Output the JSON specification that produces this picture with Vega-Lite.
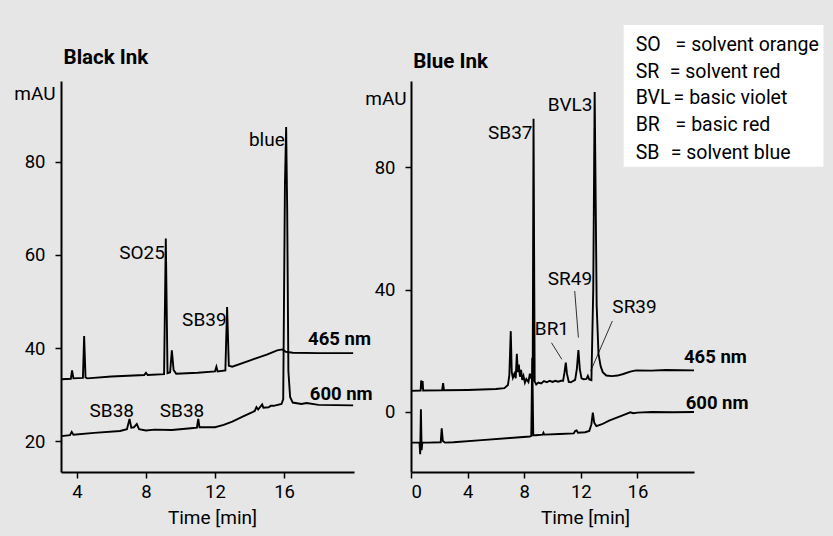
{
  "$schema": "https://vega.github.io/schema/vega-lite/v6.json",
  "background": "#e6e6e6",
  "padding": {"left": 13, "top": 24, "right": 10, "bottom": 11},
  "bounds": "flush",
  "spacing": 57,
  "config": {
    "font": "Roboto",
    "view": {"stroke": null},
    "axis": {"grid": false, "domainColor": "#000", "domainWidth": 2, "tickColor": "#000", "tickWidth": 1.5, "tickSize": 6, "labelColor": "#000", "labelFontSize": 18.5, "titleFontSize": 19, "titleFontWeight": "normal", "titleColor": "#000", "labelFont": "Roboto", "titleFont": "Roboto"},
    "text": {"fontSize": 19, "color": "#000", "font": "Roboto"}
  },
  "datasets": {
    "black": [
      {"s": "465", "t": 3.1, "v": 33.3}, {"s": "465", "t": 3.65, "v": 33.4}, {"s": "465", "t": 3.72, "v": 35.2}, {"s": "465", "t": 3.8, "v": 33.5},
      {"s": "465", "t": 4.35, "v": 33.6}, {"s": "465", "t": 4.42, "v": 42.6}, {"s": "465", "t": 4.5, "v": 33.7}, {"s": "465", "t": 4.6, "v": 33.5},
      {"s": "465", "t": 6.0, "v": 33.9}, {"s": "465", "t": 7.9, "v": 34.2}, {"s": "465", "t": 8.0, "v": 34.7}, {"s": "465", "t": 8.1, "v": 34.2},
      {"s": "465", "t": 9.05, "v": 34.4}, {"s": "465", "t": 9.15, "v": 63.5}, {"s": "465", "t": 9.25, "v": 34.6}, {"s": "465", "t": 9.4, "v": 34.8},
      {"s": "465", "t": 9.5, "v": 39.5}, {"s": "465", "t": 9.6, "v": 35.3}, {"s": "465", "t": 9.75, "v": 34.5}, {"s": "465", "t": 11.0, "v": 34.7},
      {"s": "465", "t": 12.0, "v": 35.0}, {"s": "465", "t": 12.08, "v": 36.0}, {"s": "465", "t": 12.15, "v": 35.0}, {"s": "465", "t": 12.6, "v": 35.2},
      {"s": "465", "t": 12.7, "v": 48.8}, {"s": "465", "t": 12.8, "v": 36.2}, {"s": "465", "t": 13.0, "v": 36.0}, {"s": "465", "t": 14.0, "v": 37.3},
      {"s": "465", "t": 15.0, "v": 38.6}, {"s": "465", "t": 15.6, "v": 39.5}, {"s": "465", "t": 15.9, "v": 39.7}, {"s": "465", "t": 16.1, "v": 39.2},
      {"s": "465", "t": 16.5, "v": 39.0}, {"s": "465", "t": 18.0, "v": 38.9}, {"s": "465", "t": 20.0, "v": 38.9},
      {"s": "600", "t": 3.1, "v": 21.1}, {"s": "600", "t": 3.6, "v": 21.3}, {"s": "600", "t": 3.7, "v": 22.0}, {"s": "600", "t": 3.8, "v": 21.4},
      {"s": "600", "t": 5.0, "v": 21.8}, {"s": "600", "t": 6.5, "v": 22.2}, {"s": "600", "t": 6.9, "v": 22.6}, {"s": "600", "t": 7.05, "v": 24.8},
      {"s": "600", "t": 7.15, "v": 22.9}, {"s": "600", "t": 7.3, "v": 23.0}, {"s": "600", "t": 7.47, "v": 23.7}, {"s": "600", "t": 7.6, "v": 22.6},
      {"s": "600", "t": 8.0, "v": 22.3}, {"s": "600", "t": 8.5, "v": 22.5}, {"s": "600", "t": 9.5, "v": 22.4}, {"s": "600", "t": 10.6, "v": 22.8},
      {"s": "600", "t": 10.95, "v": 22.9}, {"s": "600", "t": 11.03, "v": 24.8}, {"s": "600", "t": 11.1, "v": 23.0}, {"s": "600", "t": 12.0, "v": 23.0},
      {"s": "600", "t": 12.5, "v": 23.5}, {"s": "600", "t": 13.0, "v": 24.2}, {"s": "600", "t": 13.6, "v": 25.3}, {"s": "600", "t": 14.2, "v": 26.3},
      {"s": "600", "t": 14.3, "v": 26.5}, {"s": "600", "t": 14.4, "v": 27.3}, {"s": "600", "t": 14.5, "v": 26.8}, {"s": "600", "t": 14.73, "v": 27.9},
      {"s": "600", "t": 14.8, "v": 27.2}, {"s": "600", "t": 15.1, "v": 27.3}, {"s": "600", "t": 15.23, "v": 27.6}, {"s": "600", "t": 15.4, "v": 27.6},
      {"s": "600", "t": 15.85, "v": 28.0}, {"s": "600", "t": 15.95, "v": 29.0}, {"s": "600", "t": 16.05, "v": 75.0}, {"s": "600", "t": 16.12, "v": 87.4},
      {"s": "600", "t": 16.18, "v": 70.0}, {"s": "600", "t": 16.25, "v": 35.0}, {"s": "600", "t": 16.35, "v": 29.5}, {"s": "600", "t": 16.5, "v": 28.3},
      {"s": "600", "t": 17.0, "v": 28.0}, {"s": "600", "t": 17.3, "v": 28.2}, {"s": "600", "t": 18.0, "v": 27.8}, {"s": "600", "t": 20.0, "v": 27.7}
    ],
    "blue": [
      {"s": "465", "t": 0.0, "v": 6.9}, {"s": "465", "t": 0.68, "v": 7.0}, {"s": "465", "t": 0.72, "v": 10.3}, {"s": "465", "t": 0.77, "v": 7.5},
      {"s": "465", "t": 0.82, "v": 10.1}, {"s": "465", "t": 0.86, "v": 7.0}, {"s": "465", "t": 2.2, "v": 7.1}, {"s": "465", "t": 2.27, "v": 9.4},
      {"s": "465", "t": 2.33, "v": 7.1}, {"s": "465", "t": 4.0, "v": 7.2}, {"s": "465", "t": 6.0, "v": 7.5}, {"s": "465", "t": 6.6, "v": 7.8},
      {"s": "465", "t": 6.85, "v": 8.8}, {"s": "465", "t": 6.95, "v": 12.0}, {"s": "465", "t": 7.05, "v": 26.4}, {"s": "465", "t": 7.12, "v": 13.0},
      {"s": "465", "t": 7.2, "v": 11.2}, {"s": "465", "t": 7.3, "v": 12.5}, {"s": "465", "t": 7.4, "v": 11.0}, {"s": "465", "t": 7.48, "v": 19.0},
      {"s": "465", "t": 7.55, "v": 13.0}, {"s": "465", "t": 7.62, "v": 15.5}, {"s": "465", "t": 7.7, "v": 11.5}, {"s": "465", "t": 7.78, "v": 13.8},
      {"s": "465", "t": 7.86, "v": 10.5}, {"s": "465", "t": 7.95, "v": 11.8}, {"s": "465", "t": 8.05, "v": 9.6}, {"s": "465", "t": 8.15, "v": 10.8},
      {"s": "465", "t": 8.3, "v": 9.8}, {"s": "465", "t": 8.4, "v": 12.5}, {"s": "465", "t": 8.5, "v": 11.0}, {"s": "465", "t": 8.6, "v": 10.5},
      {"s": "465", "t": 8.66, "v": 95.8}, {"s": "465", "t": 8.74, "v": 10.0}, {"s": "465", "t": 8.85, "v": 9.0}, {"s": "465", "t": 9.0, "v": 9.6},
      {"s": "465", "t": 9.2, "v": 9.3}, {"s": "465", "t": 9.4, "v": 10.1}, {"s": "465", "t": 9.6, "v": 9.7}, {"s": "465", "t": 9.8, "v": 10.2},
      {"s": "465", "t": 10.0, "v": 9.8}, {"s": "465", "t": 10.2, "v": 10.2}, {"s": "465", "t": 10.4, "v": 9.9}, {"s": "465", "t": 10.6, "v": 10.2},
      {"s": "465", "t": 10.75, "v": 10.2}, {"s": "465", "t": 10.85, "v": 13.0}, {"s": "465", "t": 10.94, "v": 16.1}, {"s": "465", "t": 11.02, "v": 12.5},
      {"s": "465", "t": 11.15, "v": 9.8}, {"s": "465", "t": 11.3, "v": 9.7}, {"s": "465", "t": 11.6, "v": 10.5}, {"s": "465", "t": 11.72, "v": 14.0},
      {"s": "465", "t": 11.83, "v": 20.2}, {"s": "465", "t": 11.93, "v": 14.0}, {"s": "465", "t": 12.05, "v": 11.0}, {"s": "465", "t": 12.2, "v": 10.7},
      {"s": "465", "t": 12.4, "v": 10.8}, {"s": "465", "t": 12.5, "v": 11.8}, {"s": "465", "t": 12.6, "v": 10.6}, {"s": "465", "t": 12.75, "v": 10.4},
      {"s": "465", "t": 12.88, "v": 40.0}, {"s": "465", "t": 12.98, "v": 104.5}, {"s": "465", "t": 13.05, "v": 70.0}, {"s": "465", "t": 13.12, "v": 35.0},
      {"s": "465", "t": 13.25, "v": 19.0}, {"s": "465", "t": 13.4, "v": 15.0}, {"s": "465", "t": 13.55, "v": 13.0}, {"s": "465", "t": 13.8, "v": 11.9},
      {"s": "465", "t": 14.2, "v": 11.7}, {"s": "465", "t": 14.6, "v": 11.9}, {"s": "465", "t": 15.0, "v": 12.4}, {"s": "465", "t": 15.5, "v": 13.2},
      {"s": "465", "t": 15.9, "v": 13.6}, {"s": "465", "t": 17.0, "v": 13.5}, {"s": "465", "t": 18.0, "v": 13.7}, {"s": "465", "t": 20.0, "v": 13.6},
      {"s": "600", "t": 0.0, "v": -10.0}, {"s": "600", "t": 0.6, "v": -10.0}, {"s": "600", "t": 0.65, "v": -13.8}, {"s": "600", "t": 0.7, "v": 0.9},
      {"s": "600", "t": 0.75, "v": -12.5}, {"s": "600", "t": 0.8, "v": -10.0}, {"s": "600", "t": 1.2, "v": -10.0}, {"s": "600", "t": 2.1, "v": -9.9},
      {"s": "600", "t": 2.17, "v": -5.3}, {"s": "600", "t": 2.25, "v": -9.5}, {"s": "600", "t": 2.4, "v": -10.0}, {"s": "600", "t": 3.0, "v": -9.9},
      {"s": "600", "t": 5.0, "v": -9.2}, {"s": "600", "t": 7.0, "v": -8.5}, {"s": "600", "t": 8.4, "v": -8.0}, {"s": "600", "t": 8.5, "v": -7.8},
      {"s": "600", "t": 8.57, "v": 17.7}, {"s": "600", "t": 8.64, "v": -7.6}, {"s": "600", "t": 8.8, "v": -7.6}, {"s": "600", "t": 9.3, "v": -7.4},
      {"s": "600", "t": 9.36, "v": -6.8}, {"s": "600", "t": 9.42, "v": -7.4}, {"s": "600", "t": 10.5, "v": -7.2}, {"s": "600", "t": 11.5, "v": -7.0},
      {"s": "600", "t": 11.6, "v": -6.2}, {"s": "600", "t": 11.7, "v": -6.0}, {"s": "600", "t": 11.8, "v": -6.8}, {"s": "600", "t": 12.3, "v": -6.6},
      {"s": "600", "t": 12.6, "v": -6.2}, {"s": "600", "t": 12.75, "v": -4.0}, {"s": "600", "t": 12.85, "v": -0.2}, {"s": "600", "t": 12.95, "v": -3.5},
      {"s": "600", "t": 13.1, "v": -4.6}, {"s": "600", "t": 13.5, "v": -4.0}, {"s": "600", "t": 14.0, "v": -2.8}, {"s": "600", "t": 14.5, "v": -1.9},
      {"s": "600", "t": 15.0, "v": -1.0}, {"s": "600", "t": 15.5, "v": -0.1}, {"s": "600", "t": 15.7, "v": -0.4}, {"s": "600", "t": 16.0, "v": -0.2},
      {"s": "600", "t": 17.0, "v": 0.0}, {"s": "600", "t": 18.5, "v": -0.1}, {"s": "600", "t": 20.0, "v": 0.0}
    ]
  },
  "hconcat": [
    {
      "width": 293,
      "height": 391,
      "layer": [
        {
          "data": {"name": "black"},
          "mark": {"type": "line", "color": "#000", "strokeWidth": 1.9, "clip": true},
          "encoding": {
            "x": {"field": "t", "type": "quantitative", "scale": {"domain": [3.08, 20.05], "nice": false, "zero": false},
                  "axis": {"values": [4, 8, 12, 16], "title": "Time [min]", "labelPadding": 4, "titlePadding": 8, "titleX": 151}},
            "y": {"field": "v", "type": "quantitative", "scale": {"domain": [13.4, 97.3], "nice": false, "zero": false},
                  "axis": {"values": [20, 40, 60, 80], "title": "mAU", "titleAngle": 0, "titleAlign": "right", "titleBaseline": "alphabetic", "titleX": -6, "titleY": 18, "labelPadding": 10}},
            "detail": {"field": "s"}
          }
        },
        {
          "data": {"values": [{"label": "Black Ink", "t": 3.23, "v": 100.9}]},
          "mark": {"type": "text", "align": "left", "baseline": "alphabetic", "fontWeight": "bold", "fontSize": 20.5},
          "encoding": {"x": {"field": "t", "type": "quantitative"}, "y": {"field": "v", "type": "quantitative"}, "text": {"field": "label"}}
        },
        {
          "data": {"values": [{"label": "blue", "t": 16.04, "v": 83.4}, {"label": "SO25", "t": 9.1, "v": 59.0}, {"label": "SB39", "t": 12.67, "v": 44.7}]},
          "mark": {"type": "text", "align": "right", "baseline": "alphabetic"},
          "encoding": {"x": {"field": "t", "type": "quantitative"}, "y": {"field": "v", "type": "quantitative"}, "text": {"field": "label"}}
        },
        {
          "data": {"values": [{"label": "SB38", "t": 6.02, "v": 25.2}, {"label": "SB38", "t": 10.09, "v": 25.2}]},
          "mark": {"type": "text", "align": "center", "baseline": "alphabetic"},
          "encoding": {"x": {"field": "t", "type": "quantitative"}, "y": {"field": "v", "type": "quantitative"}, "text": {"field": "label"}}
        },
        {
          "data": {"values": [{"label": "465 nm", "t": 17.39, "v": 40.6}, {"label": "600 nm", "t": 17.49, "v": 28.8}]},
          "mark": {"type": "text", "align": "left", "baseline": "alphabetic", "fontWeight": "bold", "fontSize": 18.5},
          "encoding": {"x": {"field": "t", "type": "quantitative"}, "y": {"field": "v", "type": "quantitative"}, "text": {"field": "label"}}
        }
      ]
    },
    {
      "width": 283,
      "height": 391,
      "layer": [
        {
          "data": {"values": [{"t1": 15.03, "t2": 29.15, "v1": 80.1, "v2": 126.4}]},
          "mark": {"type": "rect", "color": "#fff"},
          "encoding": {
            "x": {"field": "t1", "type": "quantitative", "scale": {"domain": [0, 20], "nice": false},
                  "axis": {"values": [0, 4, 8, 12, 16], "title": "Time [min]", "labelPadding": 4, "titlePadding": 8, "titleX": 174}},
            "x2": {"field": "t2"},
            "y": {"field": "v1", "type": "quantitative", "scale": {"domain": [-19.6, 108.1], "nice": false, "zero": false},
                  "axis": {"values": [0, 40, 80], "title": "mAU", "titleAngle": 0, "titleAlign": "right", "titleBaseline": "alphabetic", "titleX": -5, "titleY": 23, "labelPadding": 10}},
            "y2": {"field": "v2"}
          }
        },
        {
          "data": {"name": "blue"},
          "mark": {"type": "line", "color": "#000", "strokeWidth": 1.9, "clip": true},
          "encoding": {
            "x": {"field": "t", "type": "quantitative"},
            "y": {"field": "v", "type": "quantitative"},
            "detail": {"field": "s"}
          }
        },
        {
          "data": {"values": [{"t1": 9.93, "v1": 22.6, "t2": 10.66, "v2": 17.2}, {"t1": 11.57, "v1": 39.5, "t2": 11.83, "v2": 24.3}, {"t1": 14.23, "v1": 29.7, "t2": 12.7, "v2": 13.4}]},
          "mark": {"type": "rule", "color": "#000", "strokeWidth": 0.8},
          "encoding": {"x": {"field": "t1", "type": "quantitative"}, "y": {"field": "v1", "type": "quantitative"}, "x2": {"field": "t2"}, "y2": {"field": "v2"}}
        },
        {
          "data": {"values": [{"label": "Blue Ink", "t": 0.16, "v": 112.4}]},
          "mark": {"type": "text", "align": "left", "baseline": "alphabetic", "fontWeight": "bold", "fontSize": 20.5},
          "encoding": {"x": {"field": "t", "type": "quantitative"}, "y": {"field": "v", "type": "quantitative"}, "text": {"field": "label"}}
        },
        {
          "data": {"values": [{"label": "SB37", "t": 8.59, "v": 89.0}, {"label": "BVL3", "t": 12.82, "v": 98.3}, {"label": "BR1", "t": 11.17, "v": 25.0}]},
          "mark": {"type": "text", "align": "right", "baseline": "alphabetic"},
          "encoding": {"x": {"field": "t", "type": "quantitative"}, "y": {"field": "v", "type": "quantitative"}, "text": {"field": "label"}}
        },
        {
          "data": {"values": [{"label": "SR49", "t": 11.23, "v": 41.5}]},
          "mark": {"type": "text", "align": "center", "baseline": "alphabetic"},
          "encoding": {"x": {"field": "t", "type": "quantitative"}, "y": {"field": "v", "type": "quantitative"}, "text": {"field": "label"}}
        },
        {
          "data": {"values": [{"label": "SR39", "t": 14.23, "v": 32.2}]},
          "mark": {"type": "text", "align": "left", "baseline": "alphabetic"},
          "encoding": {"x": {"field": "t", "type": "quantitative"}, "y": {"field": "v", "type": "quantitative"}, "text": {"field": "label"}}
        },
        {
          "data": {"values": [{"label": "465 nm", "t": 19.29, "v": 16.1}, {"label": "600 nm", "t": 19.41, "v": 1.1}]},
          "mark": {"type": "text", "align": "left", "baseline": "alphabetic", "fontWeight": "bold", "fontSize": 18.5},
          "encoding": {"x": {"field": "t", "type": "quantitative"}, "y": {"field": "v", "type": "quantitative"}, "text": {"field": "label"}}
        },
        {
          "data": {"values": [
            {"abbr": "SO", "desc": "= solvent orange", "te": 18.7, "v": 117.9},
            {"abbr": "SR", "desc": "= solvent red", "te": 18.28, "v": 109.2},
            {"abbr": "BVL", "desc": "= basic violet", "te": 18.56, "v": 100.5},
            {"abbr": "BR", "desc": "= basic red", "te": 18.7, "v": 91.8},
            {"abbr": "SB", "desc": "= solvent blue", "te": 18.35, "v": 82.5}
          ]},
          "layer": [
            {
              "mark": {"type": "text", "align": "left", "baseline": "alphabetic", "fontSize": 19.5},
              "encoding": {"x": {"datum": 15.88, "type": "quantitative"}, "y": {"field": "v", "type": "quantitative"}, "text": {"field": "abbr"}}
            },
            {
              "mark": {"type": "text", "align": "left", "baseline": "alphabetic", "fontSize": 19.5},
              "encoding": {"x": {"field": "te", "type": "quantitative"}, "y": {"field": "v", "type": "quantitative"}, "text": {"field": "desc"}}
            }
          ]
        }
      ]
    }
  ]
}
